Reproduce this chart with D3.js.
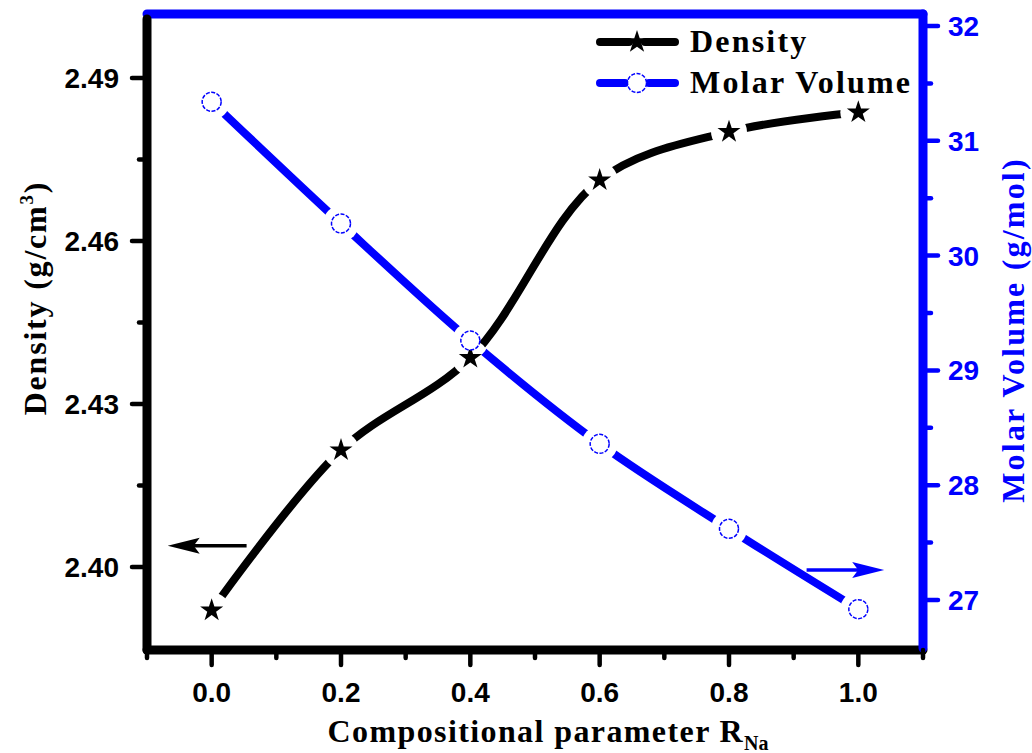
<!DOCTYPE html>
<html>
<head>
<meta charset="utf-8">
<script src="https://cdn.jsdelivr.net/npm/d3@7"></script>
<style>
  html, body { margin: 0; padding: 0; background: #fff; }
  svg text { font-weight: bold; }
</style>
</head>
<body>
<div id="chart"></div>
<script>
// data
const composition = [0.0, 0.2, 0.4, 0.6, 0.8, 1.0];
const density = [2.392, 2.4215, 2.4385, 2.4712, 2.4801, 2.4837];
const molarVolume = [31.34, 30.28, 29.26, 28.36, 27.62, 26.92];

const xTicks = [0.0, 0.2, 0.4, 0.6, 0.8, 1.0];
const xMinorTicks = [-0.1, 0.1, 0.3, 0.5, 0.7, 0.9, 1.1];
const densityTicks = [2.40, 2.43, 2.46, 2.49];
const densityMinorTicks = [2.415, 2.445, 2.475];
const volumeTicks = [27, 28, 29, 30, 31, 32];
const volumeMinorTicks = [27.5, 28.5, 29.5, 30.5, 31.5];

const WIDTH = 1032, HEIGHT = 753;
const BOX = { left: 147, right: 923, top: 14, bottom: 650 };
const BLUE = "#0000ff";
const SERIF = "'Liberation Serif', 'Times New Roman', serif";
const SANS = "'Liberation Sans', Arial, sans-serif";

const svg = d3.select("#chart").append("svg").attr("width", WIDTH).attr("height", HEIGHT);

const x = d3.scaleLinear().domain([-0.1, 1.1]).range([BOX.left, BOX.right]);
const yDensity = d3.scaleLinear().domain([2.3847, 2.5018]).range([BOX.bottom, BOX.top]);
const yVolume = d3.scaleLinear().domain([26.564, 32.105]).range([BOX.bottom, BOX.top]);

// series lines with gaps around the markers
function drawSeries(values, yScale, color, id) {
  const pts = composition.map((c, i) => [x(c), yScale(values[i])]);
  const mask = svg.append("mask").attr("id", id).attr("maskUnits", "userSpaceOnUse")
    .attr("x", 0).attr("y", 0).attr("width", WIDTH).attr("height", HEIGHT);
  mask.append("rect").attr("width", WIDTH).attr("height", HEIGHT).attr("fill", "#fff");
  mask.selectAll("circle").data(pts).enter().append("circle")
    .attr("cx", (d) => d[0]).attr("cy", (d) => d[1]).attr("r", 18).attr("fill", "#000");
  const line = d3.line().curve(d3.curveCatmullRom.alpha(0.5));
  svg.append("path").attr("d", line(pts)).attr("fill", "none")
    .attr("stroke", color).attr("stroke-width", 8).attr("stroke-linecap", "round")
    .attr("mask", `url(#${id})`);
  return pts;
}

const densityPts = drawSeries(density, yDensity, "#000", "gap-density");
const volumePts = drawSeries(molarVolume, yVolume, BLUE, "gap-volume");

const star = d3.symbol().type(d3.symbolStar).size(165);

svg.selectAll("path.star").data(densityPts).enter().append("path")
  .attr("class", "star").attr("d", star)
  .attr("transform", (d) => `translate(${d[0]},${d[1]})`).attr("fill", "#000");

svg.selectAll("circle.open").data(volumePts).enter().append("circle")
  .attr("class", "open").attr("cx", (d) => d[0]).attr("cy", (d) => d[1]).attr("r", 9.5)
  .attr("fill", "#fff").attr("stroke", BLUE).attr("stroke-width", 1.5)
  .attr("stroke-dasharray", "4 1.5");

// axis frame
const frame = svg.append("g").attr("stroke-linecap", "round");
frame.append("line").attr("x1", BOX.left).attr("x2", BOX.right).attr("y1", BOX.top).attr("y2", BOX.top)
  .attr("stroke", BLUE).attr("stroke-width", 9);
frame.append("line").attr("x1", BOX.left).attr("x2", BOX.left).attr("y1", BOX.top + 5).attr("y2", BOX.bottom)
  .attr("stroke", "#000").attr("stroke-width", 9);
frame.append("line").attr("x1", BOX.left).attr("x2", BOX.right).attr("y1", BOX.bottom).attr("y2", BOX.bottom)
  .attr("stroke", "#000").attr("stroke-width", 9);
frame.append("line").attr("x1", BOX.right).attr("x2", BOX.right).attr("y1", BOX.top).attr("y2", BOX.bottom - 2)
  .attr("stroke", BLUE).attr("stroke-width", 9);

// ticks
function ticks(vals, len, place, color) {
  frame.selectAll(null).data(vals).enter().append("line")
    .attr("stroke", color).attr("stroke-width", 4.5)
    .each(function (v) { place(d3.select(this), v, len); });
}
const bottomTick = (s, v, l) => s.attr("x1", x(v)).attr("x2", x(v)).attr("y1", BOX.bottom).attr("y2", BOX.bottom + l);
const leftTick = (s, v, l) => s.attr("y1", yDensity(v)).attr("y2", yDensity(v)).attr("x1", BOX.left).attr("x2", BOX.left - l);
const rightTick = (s, v, l) => s.attr("y1", yVolume(v)).attr("y2", yVolume(v)).attr("x1", BOX.right).attr("x2", BOX.right + l);
ticks(xTicks, 15, bottomTick, "#000");
ticks(xMinorTicks, 8, bottomTick, "#000");
ticks(densityTicks, 15, leftTick, "#000");
ticks(densityMinorTicks, 8, leftTick, "#000");
ticks(volumeTicks, 15, rightTick, BLUE);
ticks(volumeMinorTicks, 8, rightTick, BLUE);

// tick labels
svg.selectAll("text.xl").data(xTicks).enter().append("text").attr("class", "xl")
  .attr("x", (d) => x(d)).attr("y", 702).attr("text-anchor", "middle")
  .attr("font-family", SANS).attr("font-size", 28).text((d) => d.toFixed(1));
svg.selectAll("text.yl").data(densityTicks).enter().append("text").attr("class", "yl")
  .attr("x", 119).attr("y", (d) => yDensity(d) + 10).attr("text-anchor", "end")
  .attr("font-family", SANS).attr("font-size", 28).text((d) => d.toFixed(2));
svg.selectAll("text.yr").data(volumeTicks).enter().append("text").attr("class", "yr")
  .attr("x", 948).attr("y", (d) => yVolume(d) + 10).attr("text-anchor", "start")
  .attr("font-family", SANS).attr("font-size", 28).attr("fill", BLUE).text((d) => d);

// axis titles
const xTitle = svg.append("text").attr("x", 548).attr("y", 742).attr("text-anchor", "middle")
  .attr("font-family", SERIF).attr("font-size", 32).attr("letter-spacing", 1.4);
xTitle.append("tspan").text("Compositional parameter R");
xTitle.append("tspan").attr("font-size", 20).attr("dy", 8).attr("letter-spacing", 0).text("Na");

const yTitle = svg.append("text").attr("transform", "translate(46,298) rotate(-90)").attr("text-anchor", "middle")
  .attr("font-family", SERIF).attr("font-size", 32).attr("letter-spacing", 1.8);
yTitle.append("tspan").text("Density (g/cm");
yTitle.append("tspan").attr("font-size", 19).attr("dy", -13).text("3");
yTitle.append("tspan").attr("dy", 13).text(")");

svg.append("text").attr("transform", "translate(1024,330) rotate(-90)").attr("text-anchor", "middle")
  .attr("font-family", SERIF).attr("font-size", 32).attr("letter-spacing", 2.2).attr("fill", BLUE)
  .text("Molar Volume (g/mol)");

// arrows pointing to each series' axis
const arrows = [
  { from: [0.054, 2.4039], to: [-0.068, 2.4039], scale: yDensity, color: "#000" },
  { from: [0.92, 27.26], to: [1.04, 27.26], scale: yVolume, color: BLUE },
];
arrows.forEach((a) => {
  const x1 = x(a.from[0]), x2 = x(a.to[0]), y0 = a.scale(a.from[1]);
  const dir = Math.sign(x2 - x1);
  svg.append("line").attr("x1", x1).attr("x2", x2 - dir * 20).attr("y1", y0).attr("y2", y0)
    .attr("stroke", a.color).attr("stroke-width", 3.5);
  svg.append("path")
    .attr("d", `M${x2},${y0} L${x2 - dir * 32},${y0 - 8} L${x2 - dir * 26},${y0} L${x2 - dir * 32},${y0 + 8} Z`)
    .attr("fill", a.color);
});

// legend
const legend = [
  { label: "Density", color: "#000", marker: "star", y: 42 },
  { label: "Molar Volume", color: BLUE, marker: "circle", y: 83 },
];
legend.forEach((l) => {
  const g = svg.append("g");
  const gap = l.marker === "star" ? 8 : 12;
  g.append("line").attr("x1", 600).attr("x2", 637 - gap).attr("y1", l.y).attr("y2", l.y)
    .attr("stroke", l.color).attr("stroke-width", 8).attr("stroke-linecap", "round");
  g.append("line").attr("x1", 637 + gap).attr("x2", 675).attr("y1", l.y).attr("y2", l.y)
    .attr("stroke", l.color).attr("stroke-width", 8).attr("stroke-linecap", "round");
  if (l.marker === "star") {
    g.append("path").attr("d", star).attr("transform", `translate(637,${l.y})`).attr("fill", l.color);
  } else {
    g.append("circle").attr("cx", 637).attr("cy", l.y).attr("r", 9.5)
      .attr("fill", "#fff").attr("stroke", l.color).attr("stroke-width", 1.5)
      .attr("stroke-dasharray", "4 1.5");
  }
  g.append("text").attr("x", 690).attr("y", l.y + 10).attr("font-family", SERIF)
    .attr("font-size", 32).attr("letter-spacing", 2.2).text(l.label);
});
</script>
</body>
</html>
